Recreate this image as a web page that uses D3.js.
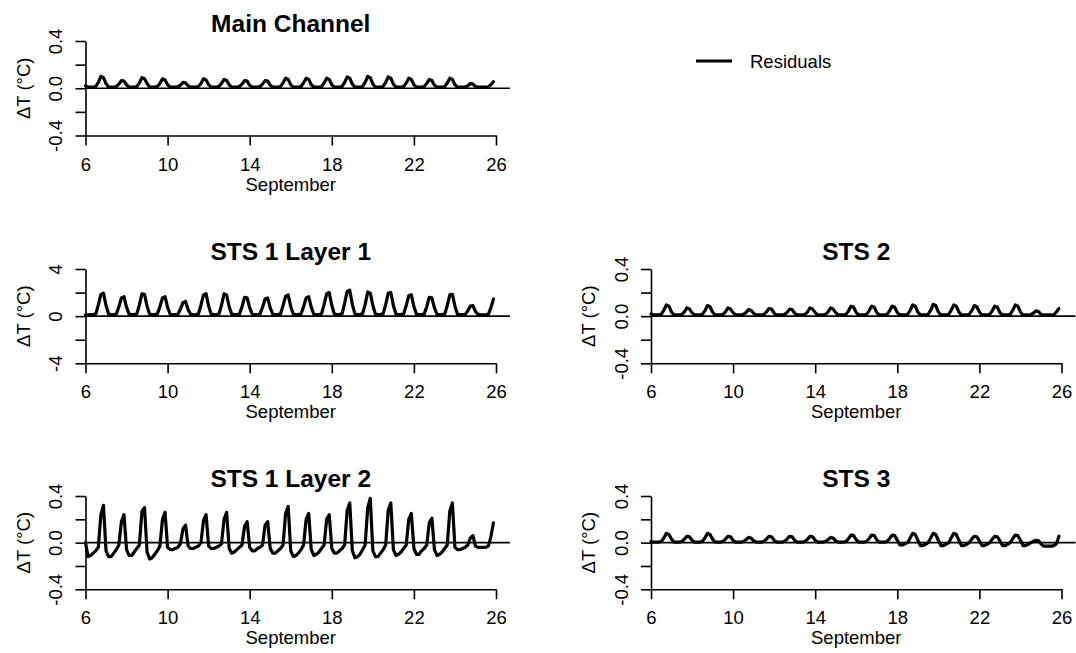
<!DOCTYPE html>
<html>
<head>
<meta charset="utf-8">
<script src="https://cdn.jsdelivr.net/npm/d3@7/dist/d3.min.js"></script>
<style>
  body { margin: 0; background: #fff; }
  svg { display: block; font-family: "Liberation Sans", Arial, Helvetica, sans-serif; }
</style>
</head>
<body>
<svg id="chart" width="1076" height="653"></svg>
<script>
// Temperature residuals (ΔT, °C), 3-hourly from 6 Sept 00:00 to 25 Sept 21:00.
// One row per day: 00, 03, 06, 09, 12, 15, 18, 21 h.
const STEP_HOURS = 3;
const START_DAY = 6;

const mainChannel = [
  0.02,  0.01, 0.01, 0.01, 0.015, 0.05,  0.10,  0.09,
  0.04,  0.01, 0.01, 0.01, 0.015, 0.035, 0.065, 0.06,
  0.03,  0.01, 0.01, 0.01, 0.015, 0.045, 0.09,  0.08,
  0.04,  0.01, 0.01, 0.01, 0.015, 0.04,  0.08,  0.07,
  0.03,  0.01, 0.01, 0.01, 0.015, 0.025, 0.05,  0.045,
  0.02,  0.01, 0.01, 0.01, 0.015, 0.04,  0.08,  0.07,
  0.03,  0.01, 0.01, 0.01, 0.015, 0.04,  0.075, 0.065,
  0.03,  0.01, 0.01, 0.01, 0.015, 0.035, 0.065, 0.06,
  0.025, 0.01, 0.01, 0.01, 0.015, 0.035, 0.065, 0.06,
  0.025, 0.01, 0.01, 0.01, 0.015, 0.045, 0.085, 0.075,
  0.03,  0.01, 0.01, 0.01, 0.015, 0.045, 0.085, 0.075,
  0.03,  0.01, 0.01, 0.01, 0.015, 0.045, 0.085, 0.075,
  0.03,  0.01, 0.01, 0.01, 0.015, 0.05,  0.095, 0.085,
  0.035, 0.01, 0.01, 0.01, 0.015, 0.05,  0.10,  0.09,
  0.035, 0.01, 0.01, 0.01, 0.015, 0.05,  0.095, 0.085,
  0.035, 0.01, 0.01, 0.01, 0.015, 0.045, 0.085, 0.075,
  0.03,  0.01, 0.01, 0.01, 0.015, 0.04,  0.075, 0.065,
  0.025, 0.01, 0.01, 0.01, 0.015, 0.045, 0.085, 0.075,
  0.03,  0.01, 0.01, 0.01, 0.012, 0.02,  0.04,  0.035,
  0.015, 0.01, 0.01, 0.01, 0.01,  0.012, 0.03,  0.055
];

const sts1Layer1 = [
  0.10, 0.12, 0.14, 0.15, 0.18, 0.95, 1.85, 1.95,
  0.90, 0.18, 0.14, 0.14, 0.18, 0.80, 1.55, 1.65,
  0.75, 0.17, 0.13, 0.14, 0.20, 0.95, 1.90, 1.85,
  0.85, 0.18, 0.14, 0.15, 0.18, 0.80, 1.55, 1.65,
  0.75, 0.16, 0.13, 0.14, 0.16, 0.60, 1.15, 1.25,
  0.55, 0.15, 0.12, 0.13, 0.18, 0.95, 1.80, 1.90,
  0.85, 0.17, 0.13, 0.14, 0.18, 0.90, 1.90, 1.80,
  0.80, 0.17, 0.13, 0.14, 0.17, 0.80, 1.60, 1.55,
  0.70, 0.16, 0.13, 0.14, 0.17, 0.75, 1.45, 1.55,
  0.70, 0.16, 0.13, 0.14, 0.18, 0.90, 1.70, 1.80,
  0.80, 0.17, 0.14, 0.15, 0.18, 0.80, 1.55, 1.65,
  0.75, 0.16, 0.13, 0.14, 0.19, 1.00, 1.90, 2.00,
  0.90, 0.18, 0.14, 0.15, 0.20, 1.10, 2.10, 2.20,
  1.00, 0.19, 0.14, 0.15, 0.20, 1.00, 2.05, 1.95,
  0.90, 0.18, 0.14, 0.15, 0.19, 1.00, 1.95, 2.00,
  0.90, 0.18, 0.14, 0.15, 0.18, 0.90, 1.75, 1.80,
  0.80, 0.17, 0.13, 0.14, 0.17, 0.80, 1.60, 1.55,
  0.70, 0.16, 0.13, 0.14, 0.18, 0.90, 1.80, 1.85,
  0.85, 0.16, 0.13, 0.13, 0.15, 0.45, 0.85, 0.90,
  0.40, 0.15, 0.12, 0.12, 0.13, 0.15, 0.70, 1.45
];

const sts1Layer2 = [
   0.00, -0.12, -0.11, -0.09, -0.07, -0.04, 0.24, 0.32,
  -0.07, -0.12, -0.12, -0.09, -0.06, -0.02, 0.18, 0.24,
  -0.06, -0.11, -0.11, -0.08, -0.05, -0.02, 0.27, 0.30,
  -0.08, -0.14, -0.13, -0.10, -0.07, -0.03, 0.20, 0.26,
  -0.04, -0.06, -0.06, -0.05, -0.04, -0.01, 0.12, 0.15,
  -0.03, -0.05, -0.05, -0.04, -0.03,  0.00, 0.19, 0.24,
  -0.03, -0.05, -0.05, -0.04, -0.03, -0.01, 0.20, 0.26,
  -0.05, -0.09, -0.08, -0.06, -0.04, -0.02, 0.14, 0.18,
  -0.04, -0.07, -0.07, -0.05, -0.04, -0.02, 0.15, 0.18,
  -0.05, -0.09, -0.09, -0.07, -0.05, -0.02, 0.25, 0.31,
  -0.07, -0.12, -0.11, -0.09, -0.06, -0.02, 0.20, 0.25,
  -0.06, -0.11, -0.10, -0.08, -0.05, -0.02, 0.20, 0.24,
  -0.05, -0.09, -0.09, -0.07, -0.05, -0.02, 0.28, 0.34,
  -0.07, -0.13, -0.12, -0.10, -0.06, -0.02, 0.30, 0.38,
  -0.07, -0.12, -0.12, -0.09, -0.06, -0.02, 0.28, 0.34,
  -0.06, -0.11, -0.10, -0.08, -0.05, -0.02, 0.20, 0.25,
  -0.05, -0.10, -0.10, -0.07, -0.05, -0.02, 0.17, 0.21,
  -0.06, -0.11, -0.10, -0.08, -0.05, -0.02, 0.27, 0.34,
  -0.04, -0.06, -0.06, -0.05, -0.04, -0.02, 0.04, 0.06,
  -0.03, -0.04, -0.04, -0.04, -0.04, -0.03, 0.05, 0.17
];

const sts2 = [
  0.02,  0.01, 0.01, 0.01, 0.015, 0.05,  0.095, 0.085,
  0.035, 0.01, 0.01, 0.01, 0.015, 0.035, 0.07,  0.06,
  0.03,  0.01, 0.01, 0.01, 0.015, 0.045, 0.09,  0.08,
  0.035, 0.01, 0.01, 0.01, 0.015, 0.035, 0.07,  0.06,
  0.03,  0.01, 0.01, 0.01, 0.015, 0.03,  0.055, 0.05,
  0.025, 0.01, 0.01, 0.01, 0.015, 0.035, 0.065, 0.06,
  0.025, 0.01, 0.01, 0.01, 0.015, 0.03,  0.06,  0.055,
  0.025, 0.01, 0.01, 0.01, 0.015, 0.035, 0.07,  0.06,
  0.03,  0.01, 0.01, 0.01, 0.015, 0.035, 0.07,  0.06,
  0.03,  0.01, 0.01, 0.01, 0.015, 0.045, 0.085, 0.075,
  0.03,  0.01, 0.01, 0.01, 0.015, 0.045, 0.085, 0.075,
  0.03,  0.01, 0.01, 0.01, 0.015, 0.045, 0.085, 0.075,
  0.03,  0.01, 0.01, 0.01, 0.015, 0.05,  0.095, 0.085,
  0.035, 0.01, 0.01, 0.01, 0.015, 0.05,  0.10,  0.09,
  0.035, 0.01, 0.01, 0.01, 0.015, 0.05,  0.095, 0.085,
  0.035, 0.01, 0.01, 0.01, 0.015, 0.045, 0.09,  0.08,
  0.035, 0.01, 0.01, 0.01, 0.015, 0.045, 0.085, 0.075,
  0.03,  0.01, 0.01, 0.01, 0.015, 0.05,  0.095, 0.085,
  0.035, 0.01, 0.01, 0.01, 0.012, 0.025, 0.045, 0.04,
  0.015, 0.01, 0.01, 0.01, 0.01,  0.012, 0.035, 0.065
];

const sts3 = [
  0.01,  0.005,  0.005,  0.005,  0.01, 0.04,  0.08,  0.07,
  0.03,  0.005,  0.005,  0.005,  0.01, 0.03,  0.055, 0.05,
  0.02,  0.005,  0.005,  0.005,  0.01, 0.04,  0.08,  0.07,
  0.03,  0.005,  0.005,  0.005,  0.01, 0.03,  0.055, 0.05,
  0.02,  0.005,  0.005,  0.005,  0.01, 0.025, 0.045, 0.04,
  0.015, 0.005,  0.005,  0.005,  0.01, 0.03,  0.055, 0.05,
  0.02,  0.005,  0.005,  0.005,  0.01, 0.03,  0.055, 0.05,
  0.02,  0.005,  0.005,  0.005,  0.01, 0.03,  0.055, 0.05,
  0.02,  0.005,  0.005,  0.005,  0.01, 0.025, 0.045, 0.04,
  0.015, 0.005,  0.005,  0.005,  0.01, 0.035, 0.065, 0.06,
  0.025, 0.005,  0.005,  0.005,  0.01, 0.035, 0.065, 0.06,
  0.025, 0.005,  0.005,  0.005,  0.01, 0.035, 0.065, 0.06,
  0.02,  -0.02,  -0.02,  -0.01,  0.00, 0.04,  0.08,  0.07,
  0.02,  -0.025, -0.025, -0.015, 0.00, 0.04,  0.08,  0.07,
  0.02,  -0.025, -0.025, -0.015, 0.00, 0.04,  0.08,  0.07,
  0.02,  -0.025, -0.025, -0.015, 0.00, 0.03,  0.055, 0.05,
  0.015, -0.025, -0.025, -0.015, 0.00, 0.03,  0.055, 0.05,
  0.015, -0.025, -0.025, -0.015, 0.00, 0.035, 0.065, 0.06,
  0.02,  -0.025, -0.025, -0.015, 0.00, 0.01,  0.02,  0.018,
  -0.01, -0.03,  -0.03,  -0.03,  -0.03, -0.025, -0.01, 0.055
];

// Axis ticks and labels
const xTicks = [6, 10, 14, 18, 22, 26];
const xTitle = "September";
const yTitle = "ΔT (°C)";
const ticksSmall = [-0.4, -0.2, 0, 0.2, 0.4];
const labelsSmall = { "-0.4": "-0.4", "0": "0.0", "0.4": "0.4" };
const ticksLarge = [-4, -2, 0, 2, 4];
const labelsLarge = { "-4": "-4", "0": "0", "4": "4" };
const legendLabel = "Residuals";

// Panel layout: axis origin (x of day 6), y of top and bottom ticks
const panels = [
  { title: "Main Channel",   values: mainChannel, lim: 0.4, ticks: ticksSmall, labels: labelsSmall, x0: 85.5, yTop: 41,  yBot: 135.5 },
  { title: "STS 1 Layer 1",  values: sts1Layer1,  lim: 4,   ticks: ticksLarge, labels: labelsLarge, x0: 85.5, yTop: 269, yBot: 363.3 },
  { title: "STS 1 Layer 2",  values: sts1Layer2,  lim: 0.4, ticks: ticksSmall, labels: labelsSmall, x0: 85.5, yTop: 496, yBot: 589.3 },
  { title: "STS 2",          values: sts2,        lim: 0.4, ticks: ticksSmall, labels: labelsSmall, x0: 651,  yTop: 269, yBot: 363.3 },
  { title: "STS 3",          values: sts3,        lim: 0.4, ticks: ticksSmall, labels: labelsSmall, x0: 651,  yTop: 496, yBot: 589.3 }
];
const AXIS_WIDTH = 410.5;    // pixels from day 6 to day 26
const ZERO_LINE_END = 26.68; // zero reference runs to the right edge of the plot region

const svg = d3.select("#chart");
svg.append("rect").attr("width", 1076).attr("height", 653).attr("fill", "#fff");

const FONT = 18.5;

panels.forEach(p => {
  const x = d3.scaleLinear().domain([6, 26]).range([p.x0, p.x0 + AXIS_WIDTH]);
  const y = d3.scaleLinear().domain([-p.lim, p.lim]).range([p.yBot, p.yTop]);
  const g = svg.append("g");

  // zero reference line
  g.append("line")
    .attr("x1", x(6)).attr("x2", x(ZERO_LINE_END))
    .attr("y1", y(0)).attr("y2", y(0))
    .attr("stroke", "#000").attr("stroke-width", 1.7);

  // residual series
  const line = d3.line()
    .x((d, i) => x(START_DAY + i * STEP_HOURS / 24))
    .y(d => y(d));
  g.append("path")
    .datum(p.values)
    .attr("d", line)
    .attr("fill", "none")
    .attr("stroke", "#000")
    .attr("stroke-width", 3.2)
    .attr("stroke-linejoin", "round")
    .attr("stroke-linecap", "round");

  // x axis
  const xa = g.append("g")
    .attr("transform", `translate(0,${p.yBot})`)
    .call(d3.axisBottom(x).tickValues(xTicks).tickSize(10).tickSizeOuter(0).tickFormat(d3.format("d")));
  xa.selectAll("path, line").attr("stroke-width", 1.6);
  xa.selectAll("text")
    .attr("y", 0).attr("dy", 0)
    .attr("transform", "translate(0,35)")
    .attr("font-size", FONT)
    .attr("font-family", "Liberation Sans, Arial, sans-serif")
    .attr("fill", "#000");

  // y axis
  const ya = g.append("g")
    .attr("transform", `translate(${p.x0},0)`)
    .call(d3.axisLeft(y).tickValues(p.ticks).tickSize(10).tickSizeOuter(0)
      .tickFormat(d => p.labels[String(d)] || ""));
  ya.selectAll("path, line").attr("stroke-width", 1.6);
  ya.selectAll("text")
    .attr("x", 0).attr("dy", 0)
    .attr("text-anchor", "middle")
    .attr("transform", "translate(-23.5,0) rotate(-90)")
    .attr("font-size", FONT)
    .attr("font-family", "Liberation Sans, Arial, sans-serif")
    .attr("fill", "#000");

  // titles
  g.append("text")
    .attr("x", x(16)).attr("y", p.yTop - 9)
    .attr("text-anchor", "middle")
    .attr("font-size", 24.5).attr("font-weight", "bold")
    .text(p.title);

  g.append("text")
    .attr("x", x(16)).attr("y", p.yBot + 55)
    .attr("text-anchor", "middle")
    .attr("font-size", FONT)
    .text(xTitle);

  g.append("text")
    .attr("transform", `translate(${p.x0 - 56},${y(0)}) rotate(-90)`)
    .attr("text-anchor", "middle")
    .attr("font-size", FONT)
    .text(yTitle);
});

// legend
const legend = svg.append("g").attr("transform", "translate(696,61)");
legend.append("line")
  .attr("x1", 0).attr("x2", 36).attr("y1", 0).attr("y2", 0)
  .attr("stroke", "#000").attr("stroke-width", 3);
legend.append("text")
  .attr("x", 54).attr("y", 7)
  .attr("font-size", FONT)
  .text(legendLabel);
</script>
</body>
</html>
